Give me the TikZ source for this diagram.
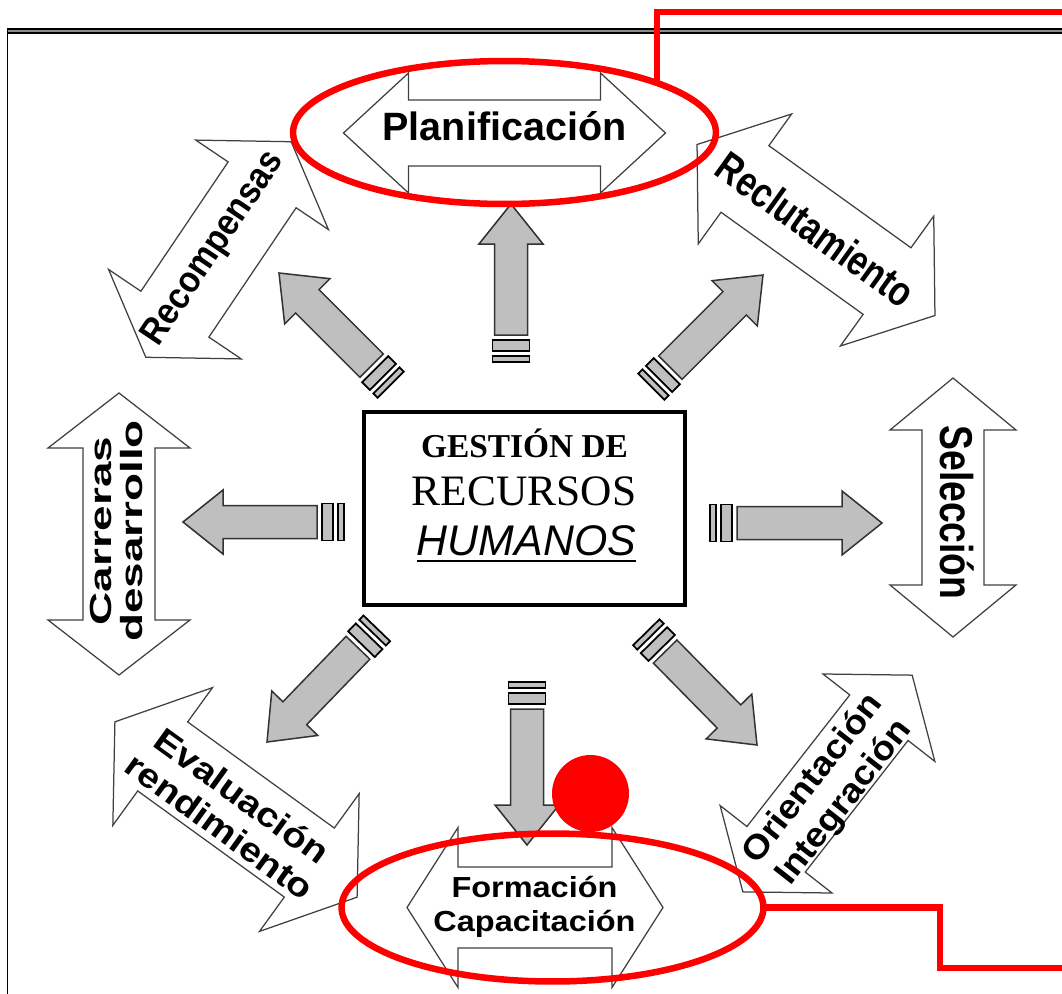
\documentclass[tikz,border=0pt]{standalone}
\usepackage{fontspec}
\newfontfamily\labelfont{Liberation Sans}
\newfontfamily\boxfont{Liberation Serif}
\usetikzlibrary{shapes.geometric}

% white double arrow: half length, head length, head half width, shaft half width
\newcommand{\dblArrow}[4]{%
  \draw[whitearrow] (-#1,0) -- (-#1+#2,#3) -- (-#1+#2,#4) -- (#1-#2,#4)
    -- (#1-#2,#3) -- (#1,0) -- (#1-#2,-#3) -- (#1-#2,-#4)
    -- (-#1+#2,-#4) -- (-#1+#2,-#3) -- cycle;}
% gray arrow, tip at the origin: shaft length
\newcommand{\grayArrow}[1]{%
  \draw[grayarrow] (0,0) -- (-40,32) -- (-40,16.5) -- (-#1,16.5)
    -- (-#1,-16.5) -- (-40,-16.5) -- (-40,-32) -- cycle;
  \draw[stripe] (-#1-5,-18.5) rectangle (-#1-16,18.5);
  \draw[stripe] (-#1-21,-18.5) rectangle (-#1-27,18.5);}

\begin{document}
\begin{tikzpicture}[x=0.02cm,y=-0.02cm,
    whitearrow/.style={draw=black!75,fill=white,line width=0.25mm},
    grayarrow/.style={draw=black!80,fill=black!25,line width=0.3mm},
    stripe/.style={draw=black,fill=black!25,line width=0.35mm},
    lbl/.style args={#1/#2}{font=\labelfont\bfseries\fontsize{#1}{#2}\selectfont,align=center},
    ring/.style={ellipse,draw=red,line width=1.3mm},
    redline/.style={red,line width=1.3mm}]
\tikzset{every node/.style={inner sep=0pt,outer sep=0pt}}
%\tikzset{every node/.style={draw=blue}}
\useasboundingbox (0,0) rectangle (1062,994);

% frame
\fill[black!45] (7.5,29.2) rectangle (1062,33.1);
\draw[line width=0.34mm] (7.5,994) -- (7.5,29.2) -- (1062,29.2);
\draw[line width=0.34mm] (7.5,33.1) -- (1062,33.1);

% gray arrows out of the box
\begin{scope}[shift={(511,204)},rotate=90] \grayArrow{131} \end{scope}
\begin{scope}[shift={(279,273)},rotate=135] \grayArrow{131} \end{scope}
\begin{scope}[shift={(763,275)},rotate=45] \grayArrow{131} \end{scope}
\begin{scope}[shift={(183,522)},rotate=180] \grayArrow{134} \end{scope}
\begin{scope}[shift={(882,523)},rotate=0] \grayArrow{145} \end{scope}
\begin{scope}[shift={(267,742)},rotate=226] \grayArrow{131} \end{scope}
\begin{scope}[shift={(527,845)},rotate=-90] \grayArrow{136} \end{scope}
\begin{scope}[shift={(757,745)},rotate=-45.5] \grayArrow{131} \end{scope}

% white double arrows
\begin{scope}[shift={(504.5,133)}] \dblArrow{161}{65}{60}{33} \end{scope}
\node[lbl=22.5/24,anchor=base] (plan) at (504.5,140) {Planificación};

\begin{scope}[shift={(816,230)},rotate=-35.7] \dblArrow{146.5}{59}{80}{41} \end{scope}
\node[lbl=24/25,rotate=-35.7,xscale=0.8] (reclu) at (816,229.5) {Reclutamiento};

\begin{scope}[shift={(953,507.5)},rotate=-90] \dblArrow{129.5}{52}{63}{31} \end{scope}
\node[lbl=26.2/28,anchor=base,rotate=-90,xscale=0.81] (selec) at (940,512.5) {Selección};

\begin{scope}[shift={(827.5,783.5)},rotate=52] \dblArrow{137.5}{54}{71}{37} \end{scope}
\node[lbl=19.3/22.2,rotate=52,xscale=1.09] (orient) at (829,791) {Orientación\\Integración};

\begin{scope}[shift={(535,907.5)}] \dblArrow{128}{51}{80}{40.5} \end{scope}
\node[lbl=16.5/19.3,xscale=1.12] (formac) at (534.5,907) {Formación\\Capacitación};

\begin{scope}[shift={(236,809.5)},rotate=-35.9] \dblArrow{149.5}{59}{85}{42.6} \end{scope}
\node[lbl=19.3/21.6,rotate=-35.9,xscale=1.15] (evalu) at (231,811) {Evaluación\\rendimiento};

\begin{scope}[shift={(119,534)},rotate=90] \dblArrow{141}{55}{71}{36} \end{scope}
\node[lbl=17.4/17.6,rotate=90,xscale=1.5] (carre) at (116.5,531) {Carreras\\desarrollo};

\begin{scope}[shift={(218.5,249.5)},rotate=56] \dblArrow{130}{52}{80}{41} \end{scope}
\node[lbl=21/22,rotate=56,xscale=0.9] (recomp) at (214,249) {Recompensas};

% central box
\node[draw,line width=0.8mm,minimum width=6.42cm,minimum height=3.86cm] (grh) at (524.5,508.5) {};
\node[anchor=base,font=\boxfont\bfseries\fontsize{19}{20}\selectfont] (gestion) at (524.5,457) {GESTIÓN DE};
\node[anchor=base,font=\boxfont\fontsize{24.7}{26}\selectfont] (recursos) at (524,505) {RECURSOS};
\node[anchor=base,font=\labelfont\itshape\fontsize{24.4}{26}\selectfont] (humanos) at (526.5,555) {HUMANOS};
\draw[line width=0.5mm] ([yshift=-3.4pt]humanos.base west) -- ([yshift=-3.4pt]humanos.base east);

% red marks
\node[ring,minimum width=8.46cm,minimum height=2.86cm] (planring) at (504.5,132.5) {};
\node[ring,minimum width=8.44cm,minimum height=2.96cm] (formring) at (552.5,907.5) {};
\node[circle,fill=red,minimum size=1.54cm] (dot) at (590.5,793.5) {};
\coordinate (topExit) at (1062,12);
\coordinate (lowBend) at (940,968);
\coordinate (lowExit) at (1062,968);
\draw[redline] (planring.18) |- (topExit);
\draw[redline] (formring.east) -| (lowBend) -- (lowExit);
\end{tikzpicture}
\end{document}
